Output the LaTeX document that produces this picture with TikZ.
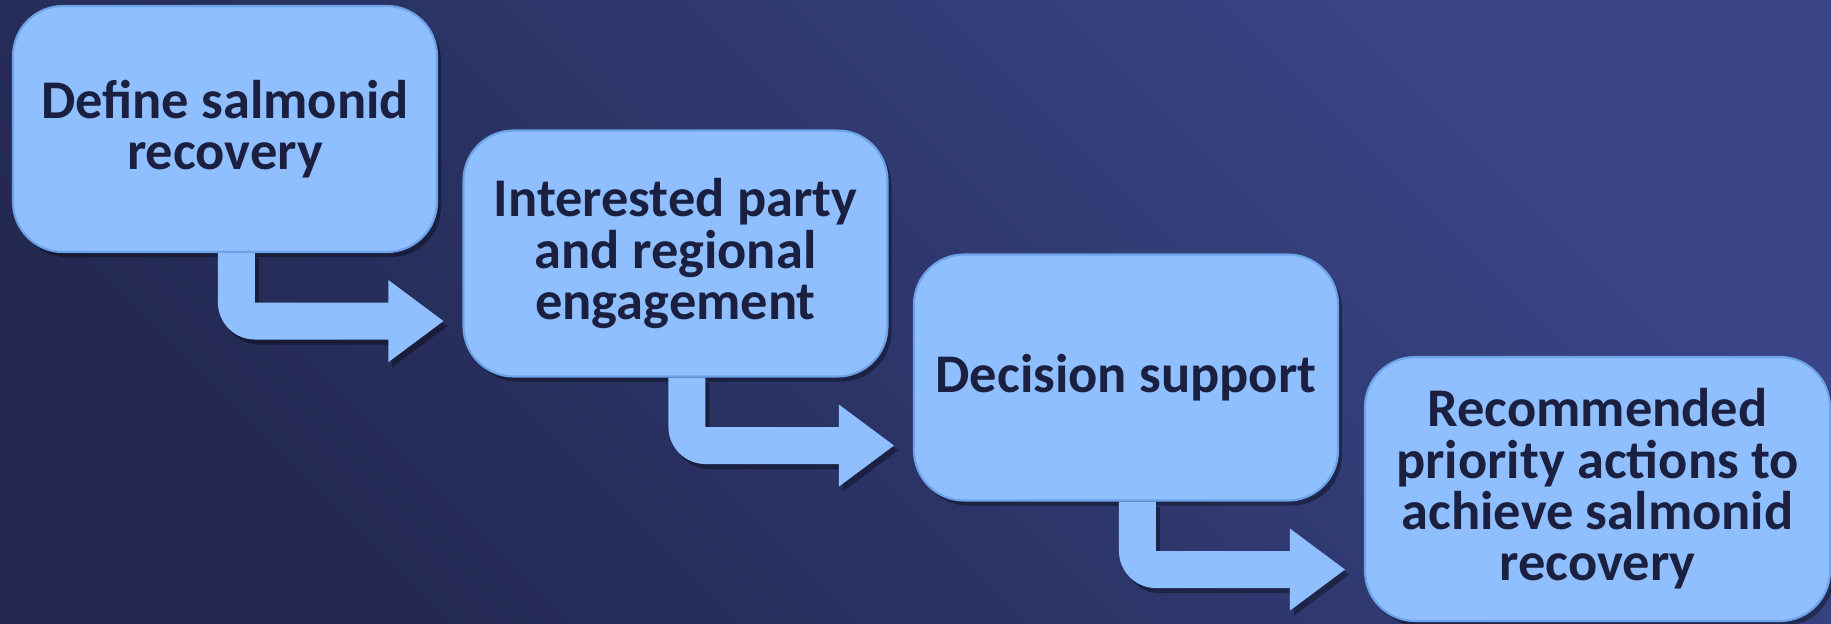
\documentclass[tikz,border=0pt]{standalone}
\usepackage{fontspec}
\setmainfont{Carlito}
\usetikzlibrary{calc,shadows}

\definecolor{bgdark}{RGB}{34,40,80}
\definecolor{bglight}{RGB}{58,70,136}
\definecolor{boxblue}{RGB}{143,191,255}
\definecolor{boxedge}{RGB}{108,162,232}
\definecolor{textnavy}{RGB}{27,32,64}

% bent arrow from the bottom of one step to the left of the next
\newcommand{\bendarrow}[2]{%
  \fill[arrowshape] let \p1 = (#1.south west), \p2 = (#2.west) in
    (\x1+2.43cm, \y1) -- (\x1+2.43cm, \y1-0.495cm) -- (\x2-0.74cm, \y1-0.495cm)
    -- (\x2-0.74cm, \y1-0.27cm) -- (\x2-0.19cm, \y1-0.68cm) -- (\x2-0.74cm, \y1-1.09cm)
    -- (\x2-0.74cm, \y1-0.865cm) -- (\x1+2.43cm, \y1-0.865cm)
    .. controls (\x1+2.2265cm, \y1-0.865cm) and (\x1+2.06cm, \y1-0.6985cm) .. (\x1+2.06cm, \y1-0.495cm)
    -- (\x1+2.06cm, \y1) -- cycle;
}

\begin{document}
\begin{tikzpicture}[
    stepbox/.style = {draw = boxedge, line width = 0.6pt, fill = boxblue,
      rounded corners = 0.5cm, minimum width = 4.24cm, minimum height = 2.46cm,
      inner sep = 0pt, align = center, text = textnavy,
      font = \fontsize{15.5}{14.6}\selectfont\bfseries,
      drop shadow = {shadow xshift = 0.04cm, shadow yshift = -0.05cm, opacity = 0.35, fill = black}},
    arrowshape/.style = {fill = boxblue,
      drop shadow = {shadow xshift = 0.04cm, shadow yshift = -0.05cm, opacity = 0.35, fill = black}}
  ]

  \useasboundingbox (0, 0) rectangle (18.31, 6.23);
  \clip (0, 0) rectangle (18.31, 6.23);
  \shade[bottom color = bgdark, top color = bglight, shading angle = -45]
    (0, 0) rectangle (18.31, 6.23);

  \node[stepbox] (define) at (2.25, 4.94) {Define salmonid\\recovery};
  \node[stepbox] (engage) at (6.755, 3.695) {Interested party\\and regional\\engagement};
  \node[stepbox] (decide) at (11.26, 2.455) {Decision support};
  \node[stepbox, minimum width = 4.65cm, minimum height = 2.64cm] (actions) at (15.975, 1.34)
    {Recommended\\priority actions to\\achieve salmonid\\recovery};

  \bendarrow{define}{engage}
  \bendarrow{engage}{decide}
  \bendarrow{decide}{actions}

\end{tikzpicture}
\end{document}
